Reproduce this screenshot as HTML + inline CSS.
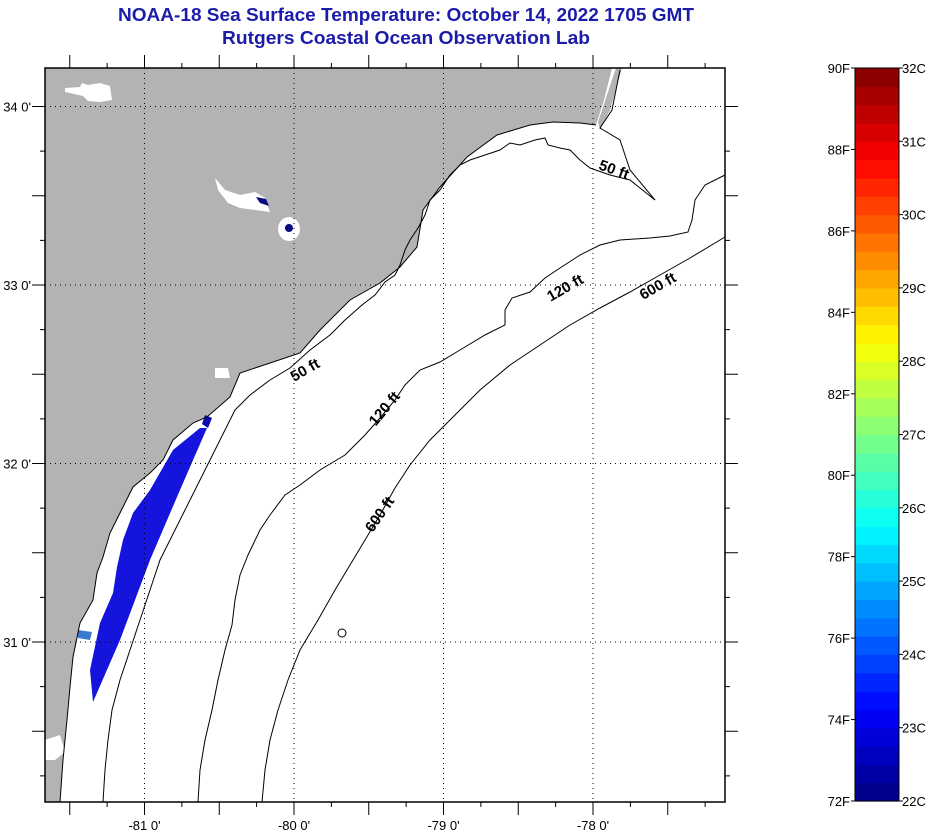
<!DOCTYPE html>
<html><head><meta charset="utf-8"><style>
html,body{margin:0;padding:0;background:#fff;}
svg{display:block;font-family:"Liberation Sans",sans-serif;}
</style></head><body>
<svg id="chart" width="936" height="832" viewBox="0 0 936 832" xmlns="http://www.w3.org/2000/svg">
<text x="406" y="21" text-anchor="middle" font-size="18" font-weight="bold" fill="#1c1caa" textLength="576" lengthAdjust="spacingAndGlyphs">NOAA-18 Sea Surface Temperature:  October 14, 2022 1705 GMT</text>
<text x="406" y="44" text-anchor="middle" font-size="18" font-weight="bold" fill="#1c1caa" textLength="368" lengthAdjust="spacingAndGlyphs">Rutgers Coastal Ocean Observation Lab</text>
<g id="map"></g>
<g id="cbar"></g>
</svg>
<script>
// Axis data
const lonTicks = [-81, -80, -79, -78];
const lonLabels = ["-81 0'", "-80 0'", "-79 0'", "-78 0'"];
const latTicks = [34, 33, 32, 31];
const latLabels = ["34 0'", "33 0'", "32 0'", "31 0'"];
const tempC = [22, 23, 24, 25, 26, 27, 28, 29, 30, 31, 32];
const tempCLabels = ["22C","23C","24C","25C","26C","27C","28C","29C","30C","31C","32C"];
const tempF = [72, 74, 76, 78, 80, 82, 84, 86, 88, 90];
const tempFLabels = ["72F","74F","76F","78F","80F","82F","84F","86F","88F","90F"];
// Contour labels [lon, lat, text, angle]
const contourLabelLon = [-77.87, -79.91, -78.17, -79.37, -77.55, -79.4];
const contourLabelLat = [33.62, 32.5, 32.96, 32.29, 32.97, 31.7];
const contourLabelText = ["50 ft", "50 ft", "120 ft", "120 ft", "600 ft", "600 ft"];
const contourLabelAngle = [20, -30, -30, -50, -30, -55];

const NS = "http://www.w3.org/2000/svg";
const X0 = 45, X1 = 725, Y0 = 68, Y1 = 802;
function xScale(lon){ return 294 + (lon + 80) * 149.5; }
function yScale(lat){ return 285 - (lat - 33) * 178.5; }
function mk(tag, attrs, parent){ const e = document.createElementNS(NS, tag); for (const k in attrs) e.setAttribute(k, attrs[k]); parent.appendChild(e); return e; }
const map = document.getElementById('map');

mk('rect', {x:X0, y:Y0, width:X1-X0, height:Y1-Y0, fill:'#fff'}, map);
const land = mk('polygon', {fill:'#b3b3b3', points:"45,68 612,68 604,100 596,125 580,123 553,122 530,125 497,135 467,157 440,187 423,210 417,247 400,267 380,283 350,300 320,330 300,353 270,363 240,373 230,397 207,417 193,423 173,440 163,460 150,473 133,487 120,513 110,533 103,557 97,573 93,600 80,623 73,657 70,687 67,720 63,760 60,802 45,802"}, map);


mk('polygon', {fill:'#b3b3b3', points:"616,68 622,68 610,110 600,130 598,122"}, map);
mk('polygon', {fill:'#fff', points:"65,88 80,87 82,83 88,85 100,83 110,86 112,100 100,102 88,101 83,96 65,92"}, map);
mk('polygon', {fill:'#fff', points:"215,178 225,190 240,195 255,192 265,198 270,212 255,210 240,208 228,203 218,190"}, map);
mk('ellipse', {cx:289, cy:229, rx:11, ry:12, fill:'#fff'}, map);
mk('ellipse', {cx:289, cy:228, rx:4, ry:4, fill:'#0a0a80'}, map);
mk('polygon', {fill:'#0a0a80', points:"256,197 266,199 269,206 260,203"}, map);
mk('polygon', {fill:'#fff', points:"45,740 60,735 65,752 55,760 45,760"}, map);
mk('polygon', {fill:'#fff', points:"215,368 228,368 230,378 215,378"}, map);
const sw = mk('polygon', {fill:'#1414dc', points:"200,428 207,428 180,490 150,560 120,640 93,702 90,670 100,623 113,593 117,567 123,540 133,513 150,490 173,450"}, map);


mk('polygon', {fill:'#0a0ab0', points:"205,415 212,418 208,428 202,424"}, map);
mk('polygon', {fill:'#3a7ad0', points:"78,630 92,632 90,640 78,638"}, map);
mk('polyline', {fill:'none', stroke:'#000', 'stroke-width':1, points:"596,125 580,123 553,122 530,125 497,135 467,157 440,187 423,210 417,247 400,267 380,283 350,300 320,330 300,353 270,363 240,373 230,397 207,417 193,423 173,440 163,460 150,473 133,487 120,513 110,533 103,557 97,573 93,600 80,623 73,657 70,687 67,720 63,760 60,802"}, map);
mk('polyline', {fill:'none', stroke:'#000', 'stroke-width':1, points:"620,70 612,110 600,128 620,140 630,170 655,200"}, map);
const c50 = mk('polyline', {fill:'none', stroke:'#000', 'stroke-width':1, points:"655,200 630,180 610,175 590,168 580,160 570,150 560,148 548,145 545,138 535,140 520,145 510,143 500,150 485,155 470,160 460,165 450,175 440,190 430,200 425,215 418,228 410,240 405,250 400,265 395,275 385,282 375,295 362,305 345,320 330,335 310,350 290,368 270,380 250,395 235,410 225,430 215,450 205,470 195,490 185,510 170,540 160,560 150,590 140,620 130,650 120,680 112,710 108,740 105,770 103,802"}, map);


const c120 = mk('polyline', {fill:'none', stroke:'#000', 'stroke-width':1, points:"725,175 705,185 695,200 692,220 688,232 670,236 650,238 620,240 600,245 580,255 560,268 545,278 530,292 512,298 505,310 505,325 485,335 460,350 440,362 420,370 405,385 395,400 380,418 365,435 345,455 320,470 300,485 285,495 270,515 260,530 248,555 240,575 235,600 232,625 225,650 218,680 212,710 205,740 200,770 198,802"}, map);


const c600 = mk('polyline', {fill:'none', stroke:'#000', 'stroke-width':1, points:"725,237 690,258 660,275 630,292 600,308 570,325 540,345 510,365 480,390 455,415 430,440 410,465 395,488 380,515 365,540 350,565 335,590 318,620 300,650 288,680 278,710 270,740 265,770 262,802"}, map);


mk('circle', {cx:342, cy:633, r:4, fill:'none', stroke:'#000', 'stroke-width':1}, map);

for (let i = 0; i < contourLabelText.length; i++) {
  const x = xScale(contourLabelLon[i]), y = yScale(contourLabelLat[i]);
  const t = mk('text', {x:x, y:y, 'font-size':15, 'font-weight':'bold', 'text-anchor':'middle', fill:'#000', transform:`rotate(${contourLabelAngle[i]} ${x} ${y})`}, map);
  t.textContent = contourLabelText[i];
  
  
}

for (let i = 0; i < lonTicks.length; i++) {
  const x = xScale(lonTicks[i]);
  const g = mk('line', {x1:x, y1:Y0, x2:x, y2:Y1, stroke:'#000', 'stroke-width':1, 'stroke-dasharray':'1,4'}, map);
  
  
  const t = mk('text', {x:x, y:830, 'font-size':13, 'text-anchor':'middle', fill:'#000'}, map);
  t.textContent = lonLabels[i];
  
  
}
for (let i = 0; i < latTicks.length; i++) {
  const y = yScale(latTicks[i]);
  const g = mk('line', {x1:X0, y1:y, x2:X1, y2:y, stroke:'#000', 'stroke-width':1, 'stroke-dasharray':'1,4'}, map);
  
  
  const t = mk('text', {x:31, y:y+5, 'font-size':13, 'text-anchor':'end', fill:'#000'}, map);
  t.textContent = latLabels[i];
  
  
}
for (let lon = -81.75; lon <= -77; lon += 0.25) {
  const x = xScale(lon);
  if (x < X0 || x > X1) continue;
  const half = Math.abs(lon*2 - Math.round(lon*2)) < 1e-6;
  const len = half ? 13 : 5;
  mk('line', {x1:x, y1:Y0, x2:x, y2:Y0-len, stroke:'#000'}, map);
  mk('line', {x1:x, y1:Y1, x2:x, y2:Y1+len, stroke:'#000'}, map);
}
for (let lat = 30.25; lat <= 34.25; lat += 0.25) {
  const y = yScale(lat);
  if (y < Y0 || y > Y1) continue;
  const half = Math.abs(lat*2 - Math.round(lat*2)) < 1e-6;
  const len = half ? 13 : 5;
  mk('line', {x1:X0, y1:y, x2:X0-len, y2:y, stroke:'#000'}, map);
  mk('line', {x1:X1, y1:y, x2:X1+len, y2:y, stroke:'#000'}, map);
}
const frame = mk('rect', {x:X0, y:Y0, width:X1-X0, height:Y1-Y0, fill:'none', stroke:'#000', 'stroke-width':1.5}, map);



const cb = document.getElementById('cbar');
const CX0 = 855, CX1 = 899, CY0 = 68, CY1 = 801;
function cY(c){ return CY1 - (c - 22) / 10 * (CY1 - CY0); }
function fY(f){ return CY1 - (f - 72) / 18 * (CY1 - CY0); }
function jet(t){
  const cl = v => Math.max(0, Math.min(1, v));
  const r = cl(1.5 - Math.abs(4*t - 3)), g = cl(1.5 - Math.abs(4*t - 2)), b = cl(1.5 - Math.abs(4*t - 1));
  return `rgb(${Math.round(r*255)},${Math.round(g*255)},${Math.round(b*255)})`;
}
const nb = 40;
for (let i = 0; i < nb; i++) {
  const c0 = 22 + i * 10 / nb, c1 = 22 + (i + 1) * 10 / nb;
  const r = mk('rect', {x:CX0, y:cY(c1), width:CX1-CX0, height:cY(c0)-cY(c1)+0.6, fill:jet((i+0.5)/nb)}, cb);
  
  
}
mk('rect', {x:CX0, y:CY0, width:CX1-CX0, height:CY1-CY0, fill:'none', stroke:'#000', 'stroke-width':1}, cb);
for (let i = 0; i < tempC.length; i++) {
  const y = cY(tempC[i]);
  mk('line', {x1:CX1, y1:y, x2:CX1+4, y2:y, stroke:'#000'}, cb);
  const t = mk('text', {x:CX1+3, y:y+5, 'font-size':13, fill:'#000'}, cb);
  t.textContent = tempCLabels[i];
  
  
}
for (let i = 0; i < tempF.length; i++) {
  const y = fY(tempF[i]);
  mk('line', {x1:CX0, y1:y, x2:CX0-4, y2:y, stroke:'#000'}, cb);
  const t = mk('text', {x:CX0-5, y:y+5, 'font-size':13, 'text-anchor':'end', fill:'#000'}, cb);
  t.textContent = tempFLabels[i];
  
  
}
</script>
</body></html>
